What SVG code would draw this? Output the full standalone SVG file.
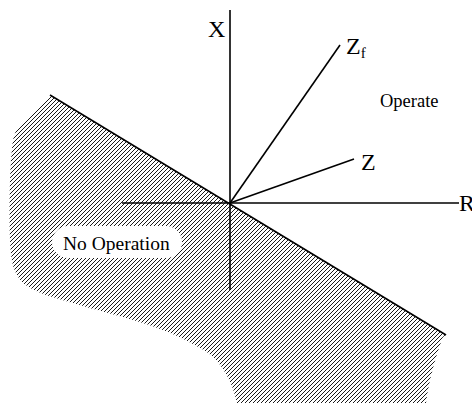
<svg xmlns="http://www.w3.org/2000/svg" width="472" height="403" viewBox="0 0 472 403">
  <defs>
    <pattern id="hatch" patternUnits="userSpaceOnUse" width="4" height="4">
      <path d="M-1,1 L1,-1 M0,4 L4,0 M3,5 L5,3" stroke="#000" stroke-width="0.9"/>
    </pattern>
    <style>
      .ax { stroke:#000; stroke-width:1.6; fill:none; stroke-linecap:butt; }
      text { fill:#000; font-family:"Liberation Serif","Times New Roman",Times,"Nimbus Roman","Noto Serif","DejaVu Serif",FreeSerif,serif; }
    </style>
  </defs>
  <rect width="472" height="403" fill="#fff"/>
  <g id="no-operation-region">
    <path d="M50,95 L446,335 L443,337 C436,355 429,380 426,403 L237,403 C232,380 220,358 200,348 C180,336 160,328 133,320 C110,313 95,310 80,305 C55,298 35,293 23,283 C13,272 11,262 10,240 C9,200 10,160 13,140 C15,132 17,128 20,125 Z" fill="url(#hatch)"/>
    <rect x="52" y="226" width="130" height="32" rx="16" ry="16" fill="#fff"/>
    <text x="63" y="250" font-size="19.5">No Operation</text>
  </g>
  <g id="operate-region">
    <text x="380" y="107" font-size="18.5">Operate</text>
  </g>
  <g id="connectors">
    <line class="ax" x1="230" y1="10" x2="230" y2="290"/>
    <line class="ax" x1="122" y1="203" x2="459" y2="203"/>
    <line class="ax" x1="50" y1="95" x2="446" y2="335"/>
    <line class="ax" x1="230" y1="203" x2="340" y2="45"/>
    <line class="ax" x1="230" y1="203" x2="354" y2="159"/>
  </g>
  <g id="axis-x">
    <text x="208" y="37" font-size="24">X</text>
  </g>
  <g id="axis-r">
    <text x="459" y="211" font-size="24">R</text>
  </g>
  <g id="vector-zf">
    <text x="346" y="54" font-size="24">Z<tspan font-size="15" dy="4">f</tspan></text>
  </g>
  <g id="vector-z">
    <text x="361" y="170" font-size="24">Z</text>
  </g>
</svg>
